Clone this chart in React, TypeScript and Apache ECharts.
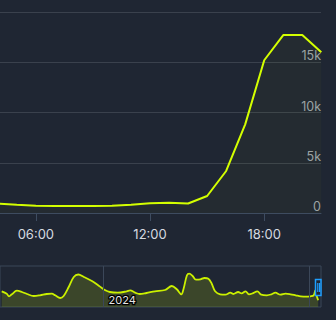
import React, { useEffect, useRef } from "react";
import * as echarts from "echarts";

// Main view: hourly values on the selected day
const mainHours = [4, 5, 6, 7, 8, 9, 10, 11, 12, 13, 14, 15, 16, 17, 18, 19, 20, 21];
const mainValues = [940, 820, 720, 690, 690, 700, 730, 810, 960, 1030, 940, 1690, 4180, 8820, 15200, 17700, 17700, 16000];
const xTickHours = [6, 12, 18];
const yTicks = [0, 5000, 10000, 15000, 20000];

// Overview (slider) history
const overviewDates = [
  "2023-07-04", "2023-07-13", "2023-07-17", "2023-07-22", "2023-07-31", "2023-08-09", "2023-08-18", "2023-08-30",
  "2023-09-10", "2023-09-22", "2023-10-01", "2023-10-07", "2023-10-16", "2023-10-22", "2023-10-31", "2023-11-09",
  "2023-11-17", "2023-11-27", "2023-12-12", "2023-12-24", "2024-01-04", "2024-01-12", "2024-01-26", "2024-02-11",
  "2024-02-17", "2024-02-26", "2024-03-05", "2024-03-17", "2024-04-01", "2024-04-19", "2024-05-01", "2024-05-10",
  "2024-05-18", "2024-05-22", "2024-05-28", "2024-06-01", "2024-06-07", "2024-06-13", "2024-06-21", "2024-06-28",
  "2024-07-05", "2024-07-11", "2024-07-17", "2024-07-26", "2024-08-04", "2024-08-13", "2024-08-18", "2024-08-27",
  "2024-09-02", "2024-09-09", "2024-09-15", "2024-09-21", "2024-09-30", "2024-10-07", "2024-10-17", "2024-10-25",
  "2024-11-01", "2024-11-10", "2024-11-19", "2024-11-28", "2024-12-07", "2024-12-16", "2024-12-25", "2025-01-02",
  "2025-01-08", "2025-01-11", "2025-01-13", "2025-01-16",
];
const overviewValues = [
  15700, 13300, 10700, 12700, 16300, 15000, 13000, 11000,
  11700, 13000, 13300, 11700, 9000, 11000, 20000, 30000,
  32500, 30000, 25700, 21000, 16700, 15000, 14300, 15700,
  16700, 14300, 13000, 14000, 15700, 17000, 21000, 17700,
  12700, 18300, 31700, 33300, 31000, 27300, 27700, 29000,
  28300, 23300, 15700, 12700, 12300, 14300, 13000, 15000,
  13700, 15700, 12700, 13500, 15700, 12300, 11700, 12700,
  14300, 12300, 13300, 12700, 11700, 10700, 10300, 10700,
  11700, 16700, 11700, 6700,
];
const overviewYears = [2024, 2025];
const overviewYearLabels = [2024];

const BG = "#1f2633";
const LINE = "#d4ff00";

export default function App() {
  const ref = useRef<HTMLDivElement>(null);
  useEffect(() => {
    if (!ref.current) return;
    const chart = echarts.init(ref.current, null, { renderer: "svg" });
    const day = (h: number, m = 0) => new Date(2025, 0, 16, h, m).getTime();
    const mainData = mainHours.map((h, i) => [day(h), mainValues[i]]);
    const ovData = overviewDates.map((d, i) => {
      const [y, m, dd] = d.split("-").map(Number);
      return [new Date(y, m - 1, dd).getTime(), overviewValues[i]];
    });
    const xTicks = xTickHours.map((h) => day(h));
    const yearTicks = overviewYears.map((y) => new Date(y, 0, 1).getTime());
    const yearLabelTicks = overviewYearLabels.map((y) => new Date(y, 0, 1).getTime());
    chart.setOption({
      animation: false,
      backgroundColor: BG,
      textStyle: { fontFamily: "Inter" },
      grid: [
        { left: 0, right: 15, top: 12, height: 201, containLabel: false },
        {
          left: -2, right: 15, top: 266, height: 41, show: true,
          borderColor: "#3b4759", borderWidth: 1, backgroundColor: "transparent",
        },
      ],
      xAxis: [
        {
          type: "value",
          gridIndex: 0,
          min: day(4, 7),
          max: day(20, 59),
          scale: true,
          axisLine: { lineStyle: { color: "#3e4c60", width: 1 } },
          axisTick: { show: true, length: 8, customValues: xTicks, lineStyle: { color: "#3e4c60" } },
          splitLine: { show: false },
          axisLabel: {
            customValues: xTicks,
            formatter: (v: number) => {
              const d = new Date(v);
              const p = (n: number) => String(n).padStart(2, "0");
              return p(d.getHours()) + ":" + p(d.getMinutes());
            },
            color: "#d6dae0",
            fontSize: 13,
            fontFamily: "Inter",
            margin: 14,
            hideOverlap: false,
          },
        },
        {
          type: "value",
          gridIndex: 1,
          z: 5,
          min: new Date(2023, 6, 1).getTime(),
          max: new Date(2025, 0, 21).getTime(),
          scale: true,
          axisLine: { show: false },
          axisTick: { show: false, customValues: yearTicks },
          splitLine: { show: true, lineStyle: { color: "#3b4759", width: 1 } },
          axisLabel: {
            inside: true,
            customValues: yearLabelTicks,
            formatter: (v: number) => String(new Date(v).getFullYear()),
            align: "left",
            padding: [0, 0, 0, 5],
            margin: 2,
            color: "#e4e4e4",
            fontSize: 11,
            fontFamily: "Inter",
            textBorderColor: "#000",
            textBorderWidth: 2.5,
          },
        },
      ],
      yAxis: [
        {
          type: "value",
          gridIndex: 0,
          position: "right",
          min: 0,
          max: 20000,
          interval: 5000,
          axisLine: { show: false },
          axisTick: { show: false },
          splitLine: { lineStyle: { color: "#3a414d", width: 1 } },
          axisLabel: {
            inside: true,
            margin: 0,
            verticalAlign: "bottom",
            color: "#9ba1a9",
            fontSize: 12.5,
            fontFamily: "Inter",
            formatter: (v: number) => (v === yTicks[yTicks.length - 1] ? "" : v === 0 ? "0" : v / 1000 + "k"),
          },
        },
        {
          type: "value",
          gridIndex: 1,
          min: 0,
          max: 41000,
          show: false,
          splitLine: { show: false },
        },
      ],
      series: [
        {
          type: "line",
          xAxisIndex: 0,
          yAxisIndex: 0,
          data: mainData,
          showSymbol: false,
          symbol: "none",
          lineStyle: { color: LINE, width: 2 },
          areaStyle: { color: "rgba(212,255,0,0.04)" },
          clip: true,
        },
        {
          type: "line",
          xAxisIndex: 1,
          yAxisIndex: 1,
          data: ovData,
          showSymbol: false,
          symbol: "none",
          smooth: 0.35,
          lineStyle: { color: "#cbf000", width: 1.8 },
          areaStyle: { color: "rgba(203,240,0,0.16)", opacity: 1 },
          clip: true,
        },
      ],
      graphic: [
        {
          type: "rect",
          shape: { x: 315.5, y: 279.5, width: 5.5, height: 16 },
          style: { fill: BG, stroke: "#1e9fff", lineWidth: 1.5 },
          z: 100,
        },
        {
          type: "line",
          shape: { x1: 317.8, y1: 283, x2: 317.8, y2: 292 },
          style: { stroke: "#1e9fff", lineWidth: 1.2 },
          z: 101,
        },
        {
          type: "line",
          shape: { x1: 319.6, y1: 283, x2: 319.6, y2: 292 },
          style: { stroke: "#1e9fff", lineWidth: 1.2 },
          z: 101,
        },
      ],
    });
    return () => chart.dispose();
  }, []);
  return (
    <div style={{ position: "fixed", left: 0, top: 0, width: 336, height: 320, background: BG }}>
      <div ref={ref} style={{ width: 336, height: 320 }} />
    </div>
  );
}
